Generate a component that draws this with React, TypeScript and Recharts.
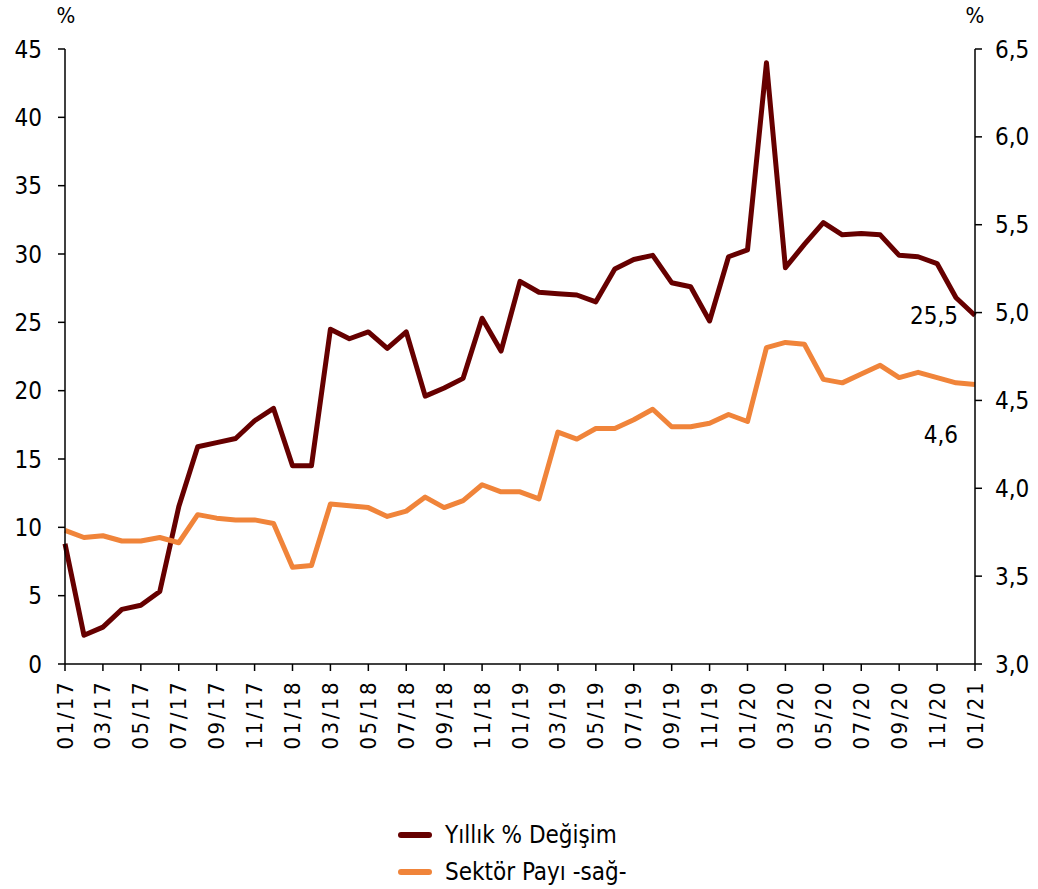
import { LineChart, Line, XAxis, YAxis, Legend, LabelList } from "recharts";

const months = [
  "01/17", "02/17", "03/17", "04/17", "05/17", "06/17", "07/17", "08/17", "09/17", "10/17", "11/17", "12/17",
  "01/18", "02/18", "03/18", "04/18", "05/18", "06/18", "07/18", "08/18", "09/18", "10/18", "11/18", "12/18",
  "01/19", "02/19", "03/19", "04/19", "05/19", "06/19", "07/19", "08/19", "09/19", "10/19", "11/19", "12/19",
  "01/20", "02/20", "03/20", "04/20", "05/20", "06/20", "07/20", "08/20", "09/20", "10/20", "11/20", "12/20",
  "01/21",
];

// Yıllık % Değişim (left axis)
const annualChange = [
  8.8, 2.1, 2.7, 4.0, 4.3, 5.3, 11.5, 15.9, 16.2, 16.5, 17.8, 18.7,
  14.5, 14.5, 24.5, 23.8, 24.3, 23.1, 24.3, 19.6, 20.2, 20.9, 25.3, 22.9,
  28.0, 27.2, 27.1, 27.0, 26.5, 28.9, 29.6, 29.9, 27.9, 27.6, 25.1, 29.8,
  30.3, 44.0, 29.0, 30.7, 32.3, 31.4, 31.5, 31.4, 29.9, 29.8, 29.3, 26.8,
  25.5,
];

// Sektör Payı (right axis)
const sectorShare = [
  3.76, 3.72, 3.73, 3.70, 3.70, 3.72, 3.69, 3.85, 3.83, 3.82, 3.82, 3.80,
  3.55, 3.56, 3.91, 3.90, 3.89, 3.84, 3.87, 3.95, 3.89, 3.93, 4.02, 3.98,
  3.98, 3.94, 4.32, 4.28, 4.34, 4.34, 4.39, 4.45, 4.35, 4.35, 4.37, 4.42,
  4.38, 4.80, 4.83, 4.82, 4.62, 4.60, 4.65, 4.70, 4.63, 4.66, 4.63, 4.60,
  4.59,
];

const leftTicks = [0, 5, 10, 15, 20, 25, 30, 35, 40, 45];
const rightTicks = [3.0, 3.5, 4.0, 4.5, 5.0, 5.5, 6.0, 6.5];

const data = months.map((m, i) => ({ m, a: annualChange[i], b: sectorShare[i] }));

const FONT = "'DejaVu Sans Condensed', 'DejaVu Sans', sans-serif";
const DARK = "#660000";
const ORANGE = "#F0843A";

const XTick = ({ x, y, payload }: any) => (
  <text
    x={x}
    y={y}
    transform={`rotate(-90, ${x}, ${y})`}
    textAnchor="end"
    dominantBaseline="central"
    fontSize={22}
    letterSpacing={2.5}
    fontFamily={FONT}
    fill="#000"
  >
    {payload.value}
  </text>
);

const lastLabel = (text: string, dy: number) => (props: any) => {
  const { x, y, index } = props;
  if (index !== months.length - 1) return null;
  return (
    <text x={x - 17} y={y + dy} textAnchor="end" dominantBaseline="central" fontSize={24} fontFamily={FONT} fill="#000">
      {text}
    </text>
  );
};

const renderLegend = () => (
  <div style={{ paddingTop: 46, paddingLeft: 398, fontFamily: FONT, fontSize: 24, color: "#000" }}>
    {[
      { name: "Yıllık % Değişim", color: DARK },
      { name: "Sektör Payı -sağ-", color: ORANGE },
    ].map((it) => (
      <div key={it.name} style={{ display: "flex", alignItems: "center", height: 37 }}>
        <span style={{ display: "inline-block", width: 34, height: 6, borderRadius: 3, background: it.color, marginRight: 13 }} />
        <span>{it.name}</span>
      </div>
    ))}
  </div>
);

export default function App() {
  return (
    <div style={{ position: "absolute", left: 0, top: 0, background: "#fff" }}>
      <LineChart width={1038} height={889} data={data} margin={{ top: 49, right: 0, left: 0, bottom: 0 }}>
        <XAxis
          dataKey="m"
          scale="point"
          padding={{ left: 0, right: 0 }}
          interval={1}
          height={106}
          tickSize={7}
          tickMargin={9}
          stroke="#000"
          strokeWidth={1.5}
          tick={<XTick />}
        />
        <YAxis
          yAxisId="left"
          domain={[0, 45]}
          ticks={leftTicks}
          width={65}
          tickSize={7}
          tickMargin={16}
          stroke="#000"
          strokeWidth={1.5}
          tick={{ fill: "#000", fontSize: 24, fontFamily: FONT }}
          label={{
            content: (p: any) => (
              <text x={p.viewBox.x + p.viewBox.width + 1} y={p.viewBox.y - 34} textAnchor="middle" dominantBaseline="central" fontSize={22} fontFamily={FONT} fill="#000">
                %
              </text>
            ),
          }}
        />
        <YAxis
          yAxisId="right"
          orientation="right"
          domain={[3, 6.5]}
          ticks={rightTicks}
          width={63}
          tickSize={7}
          tickMargin={13}
          stroke="#000"
          strokeWidth={1.5}
          tickFormatter={(v: number) => v.toFixed(1).replace(".", ",")}
          tick={{ fill: "#000", fontSize: 24, fontFamily: FONT }}
          label={{
            content: (p: any) => (
              <text x={p.viewBox.x} y={p.viewBox.y - 34} textAnchor="middle" dominantBaseline="central" fontSize={22} fontFamily={FONT} fill="#000">
                %
              </text>
            ),
          }}
        />
        <Legend verticalAlign="bottom" height={119} content={renderLegend} />
        <Line
          yAxisId="left"
          dataKey="a"
          name="Yıllık % Değişim"
          stroke={DARK}
          strokeWidth={5}
          dot={false}
          strokeLinejoin="round"
          isAnimationActive={false}
        >
          <LabelList dataKey="a" content={lastLabel("25,5", 0)} />
        </Line>
        <Line
          yAxisId="right"
          dataKey="b"
          name="Sektör Payı -sağ-"
          stroke={ORANGE}
          strokeWidth={5}
          dot={false}
          strokeLinejoin="round"
          isAnimationActive={false}
        >
          <LabelList dataKey="b" content={lastLabel("4,6", 50)} />
        </Line>
      </LineChart>
    </div>
  );
}
